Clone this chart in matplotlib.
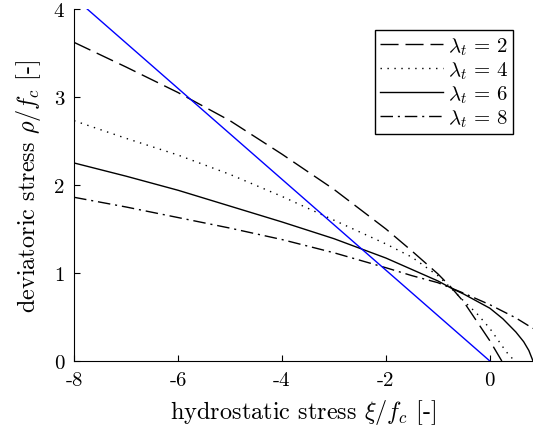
import matplotlib
matplotlib.use("Agg")
import matplotlib.pyplot as plt

plt.rcParams['font.family'] = 'serif'
plt.rcParams['font.serif'] = ['cmr10']
plt.rcParams['mathtext.fontset'] = 'cm'
plt.rcParams['axes.unicode_minus'] = False
plt.rcParams['axes.formatter.use_mathtext'] = True

# meridians, xi/fc vs rho/fc
x_l2 = [-8, -7, -6, -5, -4, -3, -2, -1.5, -1, -0.75, -0.5, -0.25, 0, 0.23]
y_l2 = [3.62, 3.34, 3.05, 2.73, 2.35, 1.95, 1.50, 1.25, 0.99, 0.84, 0.67, 0.45, 0.23, 0.0]

x_l4 = [-8, -7, -6, -5, -4, -3, -2, -1.5, -1, -0.75, -0.5, -0.25, 0, 0.25, 0.35, 0.48]
y_l4 = [2.73, 2.53, 2.34, 2.12, 1.87, 1.60, 1.33, 1.18, 0.97, 0.83, 0.68, 0.54, 0.37, 0.16, 0.08, 0.0]

x_l6 = [-8, -7, -6, -5, -4, -3, -2, -1.5, -1, -0.75, -0.5, 0, 0.25, 0.5, 0.65, 0.75, 0.83]
y_l6 = [2.25, 2.10, 1.94, 1.76, 1.58, 1.39, 1.17, 1.04, 0.91, 0.83, 0.76, 0.60, 0.48, 0.33, 0.22, 0.12, 0.0]

x_l8 = [-8, -7, -6, -5, -4, -3, -2, -1.5, -1, -0.75, -0.5, 0, 0.5, 0.83]
y_l8 = [1.86, 1.75, 1.63, 1.51, 1.38, 1.23, 1.06, 0.97, 0.89, 0.83, 0.77, 0.64, 0.49, 0.37]

x_blue = [-7.75, 0.0]
y_blue = [4.0, 0.0]

labels = [r'$\lambda_t\,=\,2$', r'$\lambda_t\,=\,4$', r'$\lambda_t\,=\,6$', r'$\lambda_t\,=\,8$']
xticks = [-8, -6, -4, -2, 0]
yticks = [0, 1, 2, 3, 4]

fig = plt.figure(figsize=(5.33, 4.31), dpi=100)
ax = fig.add_axes([0.139, 0.16, 0.861, 0.817])

ax.plot(x_l2, y_l2, color='black', lw=1.0, linestyle=(0, (13, 5)), label=labels[0])
ax.plot(x_l4, y_l4, color='black', lw=1.0, linestyle=(0, (1, 4)), label=labels[1])
ax.plot(x_l6, y_l6, color='black', lw=1.0, linestyle='-', label=labels[2])
ax.plot(x_l8, y_l8, color='black', lw=1.0, linestyle=(0, (9, 3.5, 1.5, 3.5)), label=labels[3])
ax.plot(x_blue, y_blue, color='#0000ff', lw=1.0)

ax.set_xlim(-8, 0.83)
ax.set_ylim(0, 4)
ax.set_xticks(xticks)
ax.set_xticklabels([str(t) for t in xticks])
ax.set_yticks(yticks)
ax.set_yticklabels([str(t) for t in yticks])
ax.tick_params(direction='in', length=4, labelsize=15, pad=7)
ax.spines['top'].set_visible(False)
ax.spines['right'].set_visible(False)

ax.set_xlabel(r'hydrostatic stress $\xi/f_c$ [-]', fontsize=17.5, labelpad=6)
ax.set_ylabel(r'deviatoric stress $\rho/f_c$ [-]', fontsize=17.5, labelpad=8)

leg = ax.legend(loc='upper right', bbox_to_anchor=(0.957, 0.94), borderaxespad=0,
                fontsize=15, handlelength=3.0, handletextpad=0.25, borderpad=0.25,
                labelspacing=0.12, fancybox=False, framealpha=1)
leg.get_frame().set_edgecolor('black')
leg.get_frame().set_linewidth(1.0)

plt.savefig("out.png", dpi=100)
